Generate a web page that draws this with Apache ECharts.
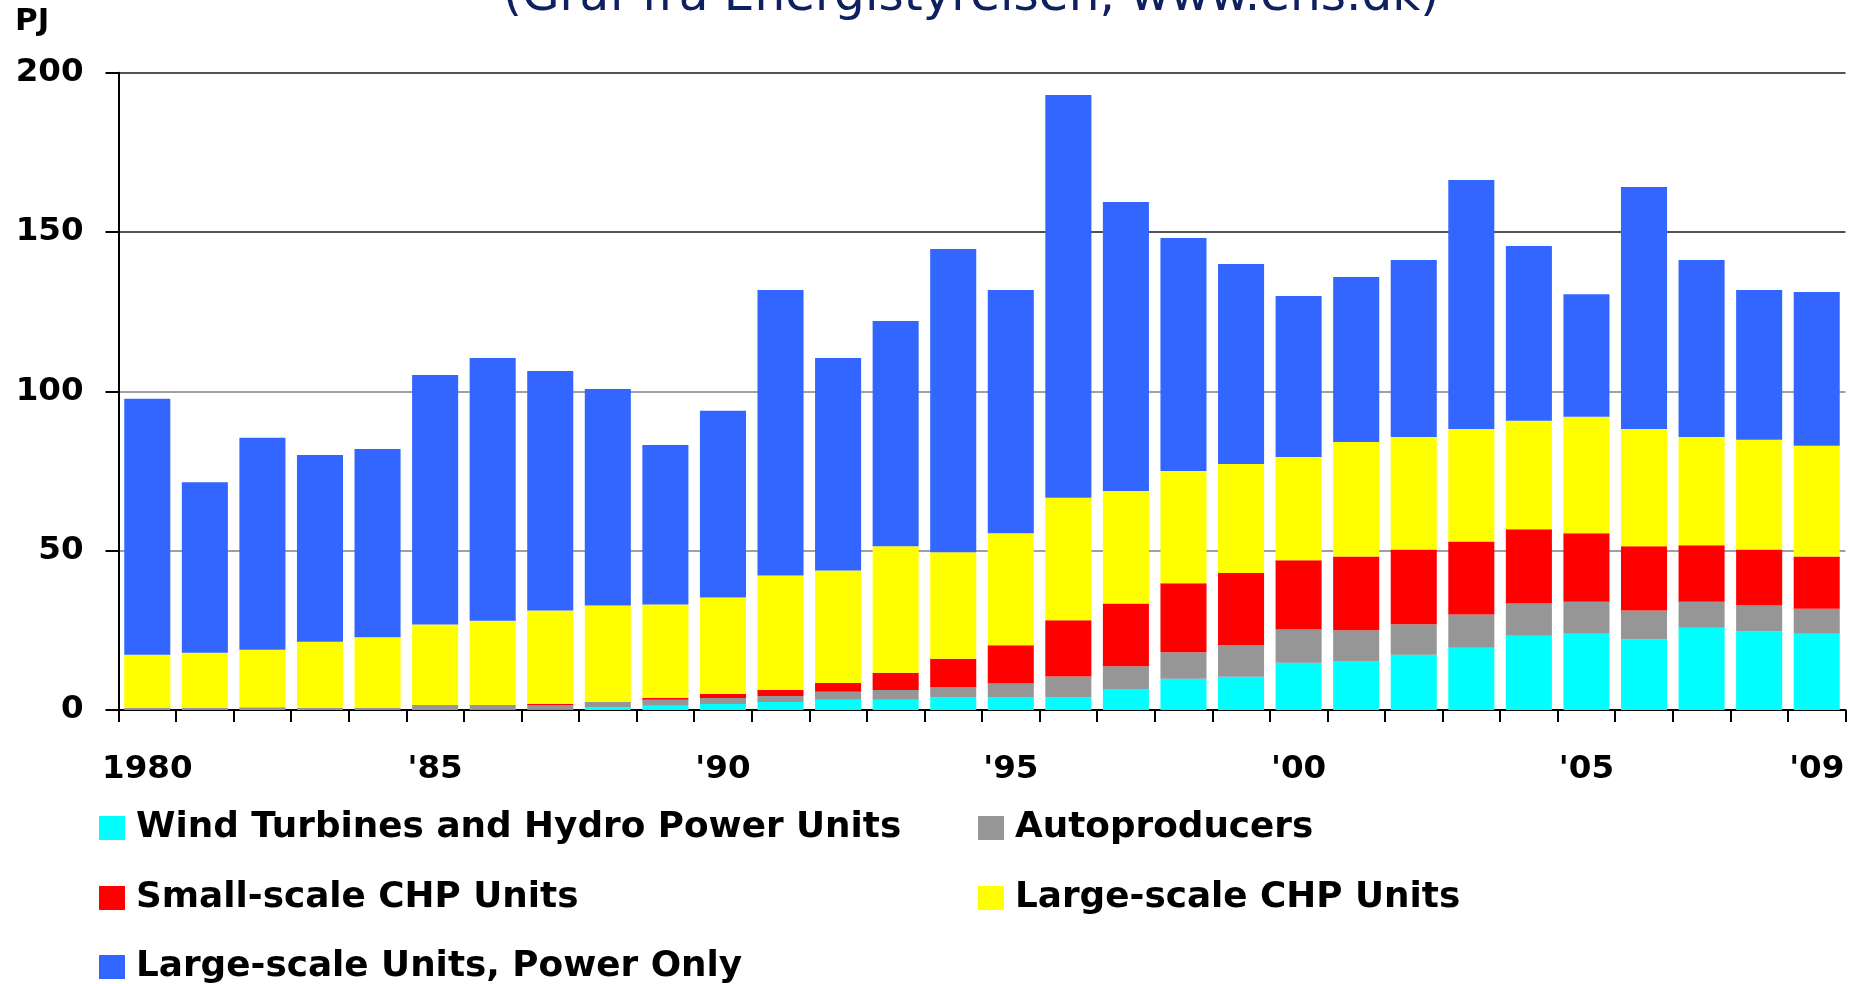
<!DOCTYPE html>
<html>
<head>
<meta charset="utf-8">
<title>Elproduktion fordelt på anlægstyper</title>
<script src="https://cdn.jsdelivr.net/npm/echarts@6/dist/echarts.min.js"></script>
<style>
	html, body{
		margin: 0;
		padding: 0;
		background: #ffffff;
	}
	#main{
		width: 1861px;
		height: 984px;
	}
</style>
</head>
<body>
<div id="main"></div>
<script>
	// år og de labels der vises under aksen
	const years = ['1980','1981','1982','1983','1984','1985','1986','1987','1988','1989',
		'1990','1991','1992','1993','1994','1995','1996','1997','1998','1999',
		'2000','2001','2002','2003','2004','2005','2006','2007','2008','2009']
	const tickLabels = ['1980','','','','',"'85",'','','','',
		"'90",'','','','',"'95",'','','','',
		"'00",'','','','',"'05",'','','',"'09"]
	const yTicks = [0, 50, 100, 150, 200]

	// PJ pr. år (stablet nedefra)
	const windHydro = [0,0,0,0,0, 0,0.2,0.2,0.9,1.3, 1.9,2.5,3.2,3.2,3.9,
		3.9,3.9,6.6,9.8,10.4, 14.8,15.4,17.3,19.5,23.3, 23.9,22.1,25.8,24.6,23.9]
	const autoproducers = [0.6,0.6,0.9,0.6,0.6, 1.6,1.4,1.4,1.6,1.9, 1.9,1.9,2.5,3.1,3.3,
		4.4,6.6,7.1,8.3,9.9, 10.5,9.6,9.6,10.5,10.1, 10.1,9.1,8.2,8.2,7.9]
	const smallCHP = [0,0,0,0,0, 0,0,0.3,0,0.6, 1.2,1.9,2.8,5.4,8.9,
		12.0,17.7,19.7,21.7,22.7, 21.7,23.2,23.5,22.9,23.3, 21.5,20.2,17.7,17.6,16.4]
	const largeCHP = [16.7,17.4,18.0,20.8,22.2, 25.2,26.4,29.3,30.3,29.3, 30.3,35.9,35.3,39.7,33.4,
		35.2,38.4,35.3,35.2,34.2, 32.4,35.9,35.3,35.3,34.1, 36.5,36.8,34.0,34.4,34.7]
	const powerOnly = [80.4,53.5,66.5,58.6,59.1, 78.3,82.5,75.2,67.9,50.1, 58.6,89.6,66.7,70.7,95.2,
		76.3,126.4,90.7,73.1,62.8, 50.5,51.8,55.5,78.1,54.8, 38.5,75.9,55.5,47.0,48.3]

	const seriesNames = ['Wind Turbines and Hydro Power Units', 'Autoproducers',
		'Small-scale CHP Units', 'Large-scale CHP Units', 'Large-scale Units, Power Only']
	const seriesData = [windHydro, autoproducers, smallCHP, largeCHP, powerOnly]
	const colors = ['#00ffff', '#969696', '#ff0000', '#ffff00', '#3366ff']

	const font = 'DejaVu Sans'

	// legend: to kolonner, tre rækker - en legend pr. post for at styre placeringen
	const legendPos = [
		{left: 99, top: 810},
		{left: 978, top: 810},
		{left: 99, top: 880},
		{left: 978, top: 880},
		{left: 99, top: 949},
	]
	let legends = legendPos.map((p, i) => ({
		left: p.left,
		top: p.top,
		padding: 0,
		itemWidth: 26,
		itemHeight: 24,
		icon: 'rect',
		data: [seriesNames[i]],
		textStyle: {
			fontFamily: font,
			fontWeight: 'bold',
			fontSize: 35.8,
			lineHeight: 34,
			color: '#000',
			padding: [0, 0, 0, 6],
		},
	}))

	let series = seriesNames.map((name, i) => ({
		name: name,
		type: 'bar',
		stack: 'total',
		barCategoryGap: '20%',
		itemStyle: { color: colors[i] },
		data: seriesData[i],
	}))

	let option = {
		animation: false,
		backgroundColor: '#ffffff',
		color: colors,
		title: [
			{
				text: '(Graf fra Energistyrelsen, www.ens.dk)',
				left: 503,
				top: -27,
				padding: 0,
				textStyle: {
					fontFamily: font,
					fontWeight: 'normal',
					fontSize: 48.5,
					lineHeight: 48,
					color: '#0f2060',
				},
			},
			{
				text: 'PJ',
				left: 15,
				top: 6,
				padding: 0,
				textStyle: {
					fontFamily: font,
					fontWeight: 'bold',
					fontSize: 31,
					lineHeight: 32,
					color: '#000',
				},
			},
		],
		legend: legends,
		tooltip: { trigger: 'axis' },
		grid: {
			left: 118.5,
			right: 15.5,
			top: 72.7,
			bottom: 274,
			containLabel: false,
		},
		xAxis: {
			type: 'category',
			data: years,
			boundaryGap: true,
			axisLine: { lineStyle: { color: '#000', width: 2 } },
			axisTick: {
				show: true,
				interval: 0,
				length: 12,
				lineStyle: { color: '#000', width: 2 },
			},
			axisLabel: {
				interval: 0,
				margin: 43,
				fontFamily: font,
				fontWeight: 'bold',
				fontSize: 32.5,
				color: '#000',
				formatter: (val, idx) => tickLabels[idx],
			},
		},
		yAxis: {
			type: 'value',
			min: yTicks[0],
			max: yTicks[yTicks.length - 1],
			interval: 50,
			axisLine: { show: true, lineStyle: { color: '#000', width: 2 } },
			axisTick: { show: true, length: 13, lineStyle: { color: '#000', width: 2 } },
			axisLabel: {
				margin: 35,
				fontFamily: font,
				fontWeight: 'bold',
				fontSize: 32.5,
				color: '#000',
			},
			splitLine: {
				show: true,
				lineStyle: {
					// de to øverste linjer er mørkere i originalen
					color: ['#808080', '#808080', '#808080', '#1a1a1a', '#1a1a1a'],
					width: 1.5,
				},
			},
		},
		series: series,
	}

	let myChart = echarts.init(document.getElementById('main'))
	myChart.setOption(option)
</script>
</body>
</html>
